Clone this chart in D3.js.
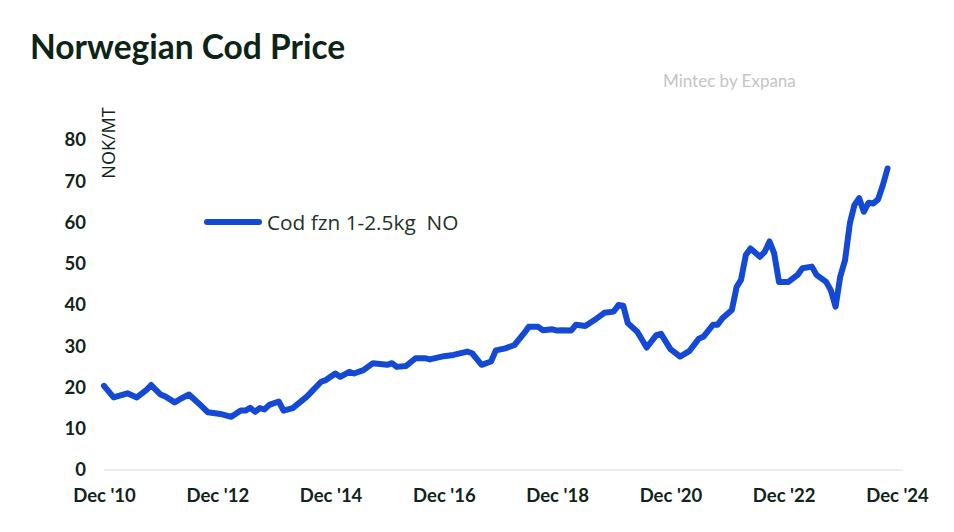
<!DOCTYPE html>
<html>
<head>
<meta charset="utf-8">
<script src="https://cdn.jsdelivr.net/npm/d3@7"></script>
<style>
  html, body { margin: 0; padding: 0; background: #fff; }
  svg { display: block; }
</style>
</head>
<body>
<svg id="chart" width="954" height="532"></svg>
<script>
// ---- data ----
const dates = ["2010-12","2011-02","2011-05","2011-07","2011-09","2011-10","2011-12","2012-01","2012-03","2012-04",
"2012-06","2012-08","2012-10","2013-01","2013-03","2013-05","2013-06","2013-07","2013-08","2013-09",
"2013-10","2013-11","2014-01","2014-02","2014-04","2014-07","2014-08","2014-10","2014-11","2015-01",
"2015-02","2015-04","2015-05","2015-07","2015-09","2015-12","2016-01","2016-02","2016-04","2016-06",
"2016-08","2016-09","2016-12","2017-02","2017-05","2017-06","2017-08","2017-10","2017-11","2018-01",
"2018-03","2018-05","2018-06","2018-08","2018-09","2018-11","2018-12","2019-01","2019-03","2019-04",
"2019-06","2019-08","2019-10","2019-12","2020-01","2020-02","2020-03","2020-05","2020-07","2020-09",
"2020-10","2020-12","2021-02","2021-04","2021-06","2021-07","2021-09","2021-10","2021-11","2022-01",
"2022-02","2022-03","2022-04","2022-05","2022-07","2022-08","2022-09","2022-10","2022-11","2023-01",
"2023-02","2023-03","2023-04","2023-06","2023-07","2023-09","2023-10","2023-11","2023-12","2024-01",
"2024-02","2024-03","2024-04","2024-05","2024-06","2024-07","2024-08","2024-09","2024-10"];
const codPrice = [20.4,17.6,18.6,17.6,19.4,20.6,18.3,17.8,16.4,17.1,
18.3,16.2,14.0,13.5,12.9,14.4,14.4,15.1,14.1,15.0,
14.7,15.8,16.6,14.4,15.0,17.8,19.0,21.4,21.8,23.4,
22.6,23.8,23.4,24.2,25.9,25.5,25.9,25.0,25.2,27.1,
27.1,26.8,27.6,27.9,28.7,28.3,25.5,26.3,29.0,29.5,
30.3,33.1,34.7,34.7,33.9,34.1,33.8,33.9,33.8,35.2,
34.9,36.4,38.1,38.4,40.0,39.8,35.6,33.5,29.7,32.7,
33.0,29.3,27.5,28.8,31.8,32.3,35.2,35.2,36.8,38.8,
44.4,46.1,52.1,53.7,51.7,52.9,55.4,52.5,45.6,45.6,
46.5,47.3,48.9,49.3,47.3,45.6,43.6,39.6,46.9,50.9,
59.8,64.2,65.9,62.6,64.8,64.6,65.6,69.1,73.1];
const yTicks = [0,10,20,30,40,50,60,70,80];
const xTickDates = ["2010-12","2012-12","2014-12","2016-12","2018-12","2020-12","2022-12","2024-12"];
const seriesName = "Cod fzn 1-2.5kg  NO";
const titleText = "Norwegian Cod Price";
const unitText = "NOK/MT";
const sourceText = "Mintec by Expana";

// ---- setup ----
const parse = d3.timeParse("%Y-%m");
const data = dates.map((d, i) => ({ date: parse(d), value: codPrice[i] }));

const svg = d3.select("#chart");
const darkText = "#10241a";
const lineColor = "#1449d6";

const x = d3.scaleTime()
  .domain([parse("2010-12"), parse("2024-12")])
  .range([104, 897]);
const y = d3.scaleLinear()
  .domain([0, 80])
  .range([470, 140]);

// title
svg.append("text")
  .attr("x", 30).attr("y", 59)
  .attr("font-family", "Lato, 'Open Sans', sans-serif")
  .attr("font-weight", 700)
  .attr("font-size", 33.5)
  .attr("fill", "#0c2416")
  .text(titleText);

// source watermark
svg.append("text")
  .attr("x", 663).attr("y", 87)
  .attr("font-family", "Lato, 'Open Sans', sans-serif")
  .attr("font-size", 17)
  .attr("fill", "#c4c4c4")
  .text(sourceText);

// baseline
svg.append("line")
  .attr("x1", x.range()[0]).attr("x2", x.range()[1] + 6)
  .attr("y1", y(0)).attr("y2", y(0))
  .attr("stroke", "#e6e6e6").attr("stroke-width", 1.5);

// y axis
const yAxis = d3.axisLeft(y).tickValues(yTicks).tickSize(0).tickPadding(0);
const gy = svg.append("g").attr("transform", "translate(86,0)").call(yAxis);
gy.select(".domain").remove();
gy.selectAll("text")
  .attr("font-family", "Lato, 'Open Sans', sans-serif")
  .attr("font-weight", 700)
  .attr("font-size", 18.5)
  .attr("fill", darkText);

// x axis
const xAxis = d3.axisBottom(x)
  .tickValues(xTickDates.map(parse))
  .tickSize(0).tickPadding(0)
  .tickFormat(d3.timeFormat("Dec '%y"));
const gx = svg.append("g").attr("transform", "translate(0,489)").call(xAxis);
gx.select(".domain").remove();
gx.selectAll("text")
  .attr("font-family", "Lato, 'Open Sans', sans-serif")
  .attr("font-weight", 700)
  .attr("font-size", 18.5)
  .attr("fill", darkText);

// y unit label
svg.append("text")
  .attr("transform", "translate(115,143) rotate(-90)")
  .attr("text-anchor", "middle")
  .attr("font-family", "'Open Sans', Lato, sans-serif")
  .attr("font-size", 18)
  .attr("fill", darkText)
  .text(unitText);

// line
const line = d3.line().x(d => x(d.date)).y(d => y(d.value));
svg.append("path")
  .datum(data)
  .attr("d", line)
  .attr("fill", "none")
  .attr("stroke", lineColor)
  .attr("stroke-width", 6)
  .attr("stroke-linejoin", "round")
  .attr("stroke-linecap", "round");

// legend
svg.append("line")
  .attr("x1", 207).attr("x2", 259)
  .attr("y1", 222).attr("y2", 222)
  .attr("stroke", lineColor).attr("stroke-width", 6)
  .attr("stroke-linecap", "round");
svg.append("text")
  .attr("x", 267).attr("y", 230)
  .attr("font-family", "'Open Sans', Lato, sans-serif")
  .attr("font-size", 20.8)
  .attr("fill", "#1d3328")
  .attr("xml:space", "preserve")
  .style("white-space", "pre")
  .text(seriesName);
</script>
</body>
</html>
